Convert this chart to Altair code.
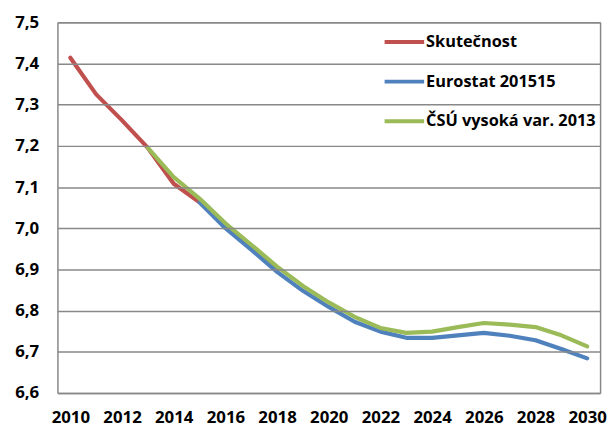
import altair as alt
import pandas as pd

years = list(range(2010, 2031))

skutecnost = [7.414, 7.325, 7.262, 7.195, 7.108, 7.063, 7.003, 6.951, 6.899]
eurostat = [None, None, None, None, None, 7.063, 7.0, 6.948, 6.894, 6.848, 6.809,
            6.773, 6.749, 6.734, 6.734, 6.740, 6.746, 6.739, 6.728, 6.707, 6.684]
csu = [None, None, None, 7.195, 7.124, 7.072, 7.012, 6.960, 6.907, 6.860, 6.820,
       6.785, 6.758, 6.746, 6.749, 6.760, 6.770, 6.766, 6.760, 6.740, 6.713]

series_names = ["Skutečnost", "Eurostat 201515", "ČSÚ vysoká var. 2013"]
series_colors = ["#C0504D", "#4F81BD", "#9BBB59"]
y_ticks = [6.6, 6.7, 6.8, 6.9, 7.0, 7.1, 7.2, 7.3, 7.4, 7.5]
x_ticks = list(range(2010, 2031, 2))

rows = []
for name, vals in zip(series_names, [skutecnost, eurostat, csu]):
    for i, v in enumerate(vals):
        if v is not None:
            rows.append({"year": years[i], "value": v, "series": name, "order": series_names.index(name)})
df = pd.DataFrame(rows)

font = "Open Sans"
grey = "#888888"

xscale = alt.Scale(domain=[2009.5, 2030.5], nice=False, zero=False)
yscale = alt.Scale(domain=[6.6, 7.5], nice=False, zero=False)

base = alt.Chart(df)

lines = base.mark_line(strokeWidth=4.2, strokeCap="round", strokeJoin="round").encode(
    x=alt.X("year:Q", scale=xscale,
            axis=alt.Axis(orient="bottom", values=x_ticks, format="d", title=None, grid=False,
                          ticks=False, domain=True, domainColor=grey, domainWidth=1.5, zindex=1,
                          labelPadding=17, labelFontSize=17,
                          labelFont=font, labelFontWeight="bold", labelColor="#000000",
                          labelFlush=False)),
    y=alt.Y("value:Q", scale=yscale,
            axis=alt.Axis(orient="left", values=y_ticks, title=None,
                          labelExpr="replace(format(datum.value, '.1f'), '.', ',')",
                          ticks=False, domain=True, domainColor=grey, domainWidth=1.5, zindex=1,
                          labelPadding=19, labelFontSize=17,
                          labelFont=font, labelFontWeight="bold", labelColor="#000000",
                          gridColor=grey, gridWidth=1.5)),
    color=alt.Color("series:N",
                    scale=alt.Scale(domain=series_names, range=series_colors),
                    legend=alt.Legend(title=None, orient="none", legendX=323, legendY=-4,
                                      fillColor="white", padding=2,
                                      symbolType="stroke", symbolSize=1600, symbolStrokeWidth=4,
                                      labelFont=font, labelFontWeight="bold", labelFontSize=16.5,
                                      labelColor="#000000", rowPadding=9, labelOffset=0,
                                      labelLimit=300, symbolOffset=4)),
    order=alt.Order("order:Q"),
    detail="series:N",
)

frame = base.mark_line(strokeOpacity=0).encode(
    x=alt.X("year:Q", scale=xscale,
            axis=alt.Axis(orient="top", values=x_ticks, title=None, grid=False, labels=False,
                          ticks=False, domain=True, domainColor=grey, domainWidth=1.5, zindex=1)),
    y=alt.Y("value:Q", scale=yscale,
            axis=alt.Axis(orient="right", values=y_ticks, title=None, grid=False, labels=False,
                          ticks=False, domain=True, domainColor=grey, domainWidth=1.5, zindex=1)),
    detail="series:N",
)

chart = alt.layer(lines, frame).resolve_axis(x="independent", y="independent").properties(
    width=549, height=375,
    padding={"left": 50, "top": 12, "right": 8, "bottom": 40},
    autosize=alt.AutoSizeParams(type="none"),
).configure_view(stroke=None)

chart.save("out.html", embed_options={"renderer": "svg", "actions": False})
